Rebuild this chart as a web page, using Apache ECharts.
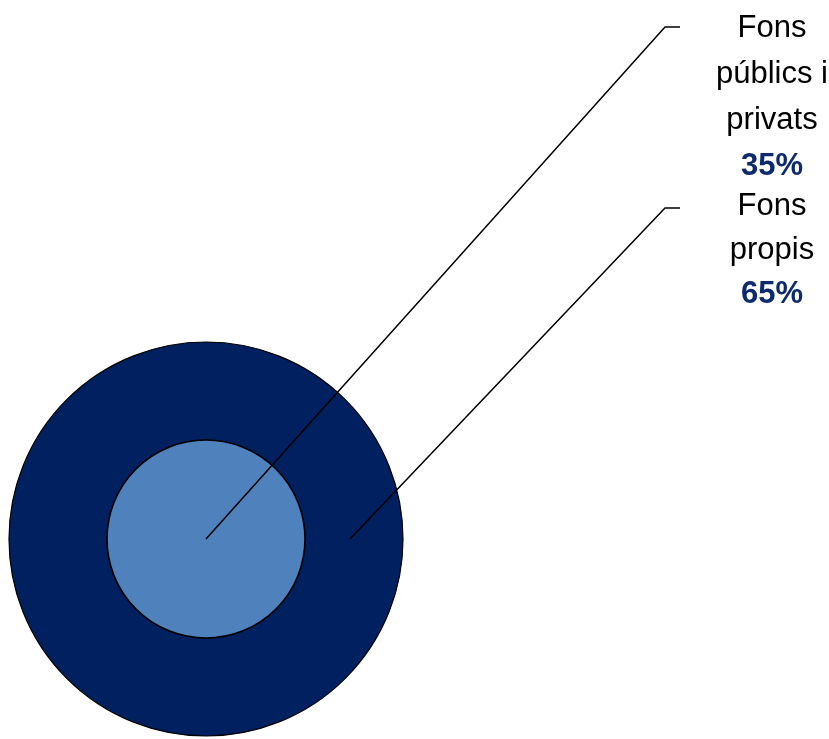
<!DOCTYPE html>
<html><head><meta charset="utf-8">
<script src="https://cdn.jsdelivr.net/npm/echarts@6/dist/echarts.min.js"></script>
<style>html,body{margin:0;padding:0;background:#fff}#c{width:829px;height:739px}</style>
</head><body><div id="c"></div>
<script>
const innerNames = ['Fons\npúblics i\nprivats'];
const innerValues = [35];
const outerNames = ['Fons\npropis'];
const outerValues = [65];
const percentLabels = ['35%', '65%'];

const cx = 206, cy = 539, rIn = 99, rOut = 197;
const chart = echarts.init(document.getElementById('c'), null, {renderer: 'canvas'});

function fmt(name, pct) {
  return name.split('\n').map(s => '{n|' + s + '}').join('\n') + '\n{v|' + pct + '}';
}
const FONT = '"Liberation Sans Narrow","Arial Narrow","Liberation Sans",sans-serif';
function rich(lh) {
  return {
    n: {fontFamily: FONT, fontSize: 31, lineHeight: lh, color: '#000'},
    v: {fontFamily: FONT, fontSize: 31, lineHeight: lh, color: '#0d2a6e', fontWeight: 'bold'}
  };
}

function layout(startX, elbowY, top) {
  return function () {
    return {
      x: 772, y: top, align: 'center', verticalAlign: 'top',
      labelLinePoints: [[startX, cy], [665, elbowY], [680, elbowY]]
    };
  };
}

function visible(radius, names, values, color, bw, z) {
  return {
    type: 'pie', center: [cx, cy], radius: radius, startAngle: 90, silent: true, z: z,
    data: names.map((n, i) => ({name: n, value: values[i]})),
    itemStyle: {color: color, borderColor: '#000', borderWidth: bw},
    label: {show: false}, labelLine: {show: false}
  };
}
function labelled(radius, names, values, pct, startX, elbowY, top, lh) {
  return {
    type: 'pie', center: [cx, cy], radius: radius, startAngle: 90, silent: true, z: 10,
    data: names.map((n, i) => ({name: n, value: values[i]})),
    itemStyle: {color: 'rgba(0,0,0,0)', borderWidth: 0},
    label: {show: true, formatter: p => fmt(p.name, pct), rich: rich(lh)},
    labelLine: {show: true, lineStyle: {color: '#000', width: 1.5}},
    labelLayout: layout(startX, elbowY, top)
  };
}

chart.setOption({
  animation: false,
  series: [
    visible([rIn, rOut], outerNames, outerValues, '#00205f', 1.2, 2),
    visible([0, rIn], innerNames, innerValues, '#4f81bd', 1.6, 3),
    labelled([0, rIn], innerNames, innerValues, percentLabels[0], cx, 27, 5, 46),
    labelled([rIn, rOut], outerNames, outerValues, percentLabels[1], cx + (rIn + rOut) / 2 - 4, 208, 184, 44)
  ]
});
</script></body></html>
